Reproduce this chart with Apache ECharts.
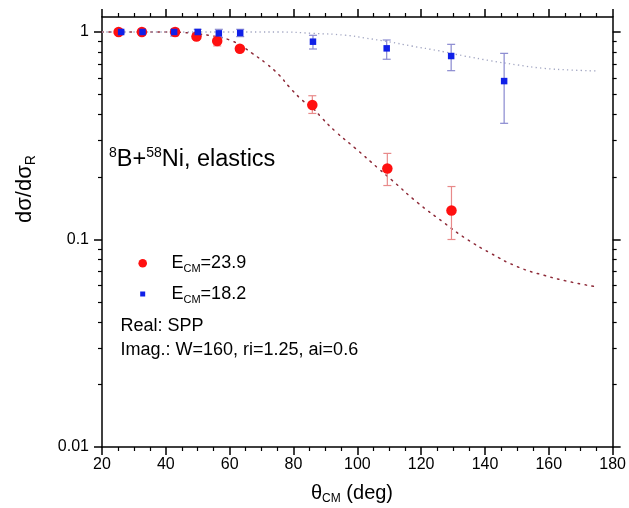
<!DOCTYPE html>
<html>
<head>
<meta charset="utf-8">
<script src="https://cdn.jsdelivr.net/npm/echarts@6/dist/echarts.min.js"></script>
<style>
  html, body { margin: 0; padding: 0; background: #fff; }
  #chart { width: 629px; height: 508px; }
</style>
</head>
<body>
<div id="chart"></div>
<script>
// Elastic scattering 8B + 58Ni: ratio to Rutherford vs. CM angle

// Measured points, E_CM = 23.9 MeV
const redAngle = [25.2, 32.5, 42.9, 49.6, 56.1, 63.2, 85.9, 109.4, 129.5];
const redRatio = [1.0, 1.0, 1.0, 0.95, 0.905, 0.83, 0.445, 0.22, 0.138];
const redLow   = [0.99, 0.99, 0.96, 0.925, 0.857, 0.805, 0.405, 0.182, 0.100];
const redHigh  = [1.01, 1.01, 1.04, 0.975, 0.956, 0.855, 0.493, 0.260, 0.180];

// Measured points, E_CM = 18.2 MeV
const blueAngle = [26.0, 32.7, 42.6, 50.0, 56.6, 63.3, 86.1, 109.2, 129.4, 146.0];
const blueRatio = [1.0, 1.0, 1.0, 1.0, 0.985, 0.99, 0.898, 0.834, 0.766, 0.58];
const blueLow   = [0.99, 0.99, 0.956, 0.96, 0.943, 0.95, 0.828, 0.739, 0.651, 0.363];
const blueHigh  = [1.01, 1.01, 1.03, 1.03, 1.03, 1.03, 0.964, 0.915, 0.872, 0.789];

// Optical-model calculations
const redCurveAngle = [20, 30, 40, 45, 50, 55, 60, 64, 67, 71.4, 75.5, 78.6, 82.7, 86, 88.9, 93.2, 99.4, 106.6, 110.7, 119, 127.3, 133.6, 141.8, 150.1, 158.5, 166.7, 175];
const redCurveRatio = [1.0, 1.0, 1.0, 0.995, 0.98, 0.955, 0.915, 0.85, 0.79, 0.706, 0.62, 0.545, 0.47, 0.43, 0.385, 0.331, 0.275, 0.220, 0.194, 0.150, 0.120, 0.102, 0.0858, 0.0740, 0.0672, 0.0625, 0.0591];
const blueCurveAngle = [20, 40, 60, 75.5, 86, 96.2, 102.5, 109.7, 117, 125.3, 133.6, 141.8, 150.1, 158.5, 166.7, 175];
const blueCurveRatio = [1.0, 1.0, 1.0, 1.0, 0.985, 0.965, 0.935, 0.898, 0.856, 0.813, 0.766, 0.727, 0.694, 0.668, 0.656, 0.649];

// Axis ticks
const xTicks = [20, 40, 60, 80, 100, 120, 140, 160, 180];
const yMajor = [0.01, 0.1, 1];
const yMinor = [0.02, 0.03, 0.04, 0.05, 0.06, 0.07, 0.08, 0.09, 0.2, 0.3, 0.4, 0.5, 0.6, 0.7, 0.8, 0.9];

const FONT = "'Liberation Sans', Arial, sans-serif";
const RED = '#ff1010';
const BLUE = '#1020e8';

const zip = (a, b) => a.map((v, i) => [v, b[i]]);
const zip3 = (a, b, c) => a.map((v, i) => [v, b[i], c[i]]);

function errorBars(color) {
  return function (params, api) {
    const x = api.value(0);
    const lo = api.coord([x, api.value(1)]);
    const hi = api.coord([x, api.value(2)]);
    const w = 4;
    const st = { stroke: color, lineWidth: 1.2 };
    return {
      type: 'group',
      children: [
        { type: 'line', shape: { x1: lo[0], y1: lo[1], x2: hi[0], y2: hi[1] }, style: st },
        { type: 'line', shape: { x1: lo[0] - w, y1: lo[1], x2: lo[0] + w, y2: lo[1] }, style: st },
        { type: 'line', shape: { x1: hi[0] - w, y1: hi[1], x2: hi[0] + w, y2: hi[1] }, style: st }
      ]
    };
  };
}

const axisLineStyle = { color: '#000', width: 1.5 };

function xAxisDef(pos, labels) {
  return {
    type: 'value', position: pos, min: 20, max: 180, interval: 20,
    axisLine: { show: true, onZero: false, lineStyle: axisLineStyle },
    axisTick: { show: true, inside: false, length: 8, lineStyle: { color: '#000', width: 1.5 } },
    minorTick: { show: true, splitNumber: 4, length: 4, lineStyle: { color: '#000', width: 1.2 } },
    axisLabel: labels
      ? { show: true, color: '#000', fontSize: 16, fontFamily: FONT, margin: 10 }
      : { show: false },
    splitLine: { show: false }
  };
}

function yAxisDef(pos, minor, labels) {
  return {
    type: 'log', logBase: 10, position: pos, min: 0.01, max: 1.181,
    axisLine: { show: !minor, onZero: false, lineStyle: axisLineStyle },
    axisTick: {
      show: true, inside: false,
      length: minor ? 4 : 8,
      customValues: minor ? yMinor : yMajor,
      lineStyle: { color: '#000', width: minor ? 1.2 : 1.5 }
    },
    minorTick: { show: false },
    axisLabel: labels
      ? {
          show: true, customValues: yMajor, color: '#000', fontSize: 16, fontFamily: FONT, margin: 13,
          formatter: v => (v >= 0.999 ? '1' : (v >= 0.099 ? '0.1' : '0.01'))
        }
      : { show: false },
    splitLine: { show: false }
  };
}

const chart = echarts.init(document.getElementById('chart'), null, { renderer: 'canvas' });

const option = {
  animation: false,
  backgroundColor: '#ffffff',
  grid: { left: 102, right: 12, top: 17, bottom: 61, containLabel: false },
  xAxis: [xAxisDef('bottom', true), xAxisDef('top', false)],
  yAxis: [
    yAxisDef('left', false, true),
    yAxisDef('right', false, false),
    yAxisDef('left', true, false),
    yAxisDef('right', true, false)
  ],
  series: [
    {
      type: 'line', name: 'calc 23.9', data: zip(redCurveAngle, redCurveRatio),
      smooth: true, showSymbol: false, z: 1,
      lineStyle: { color: '#8e2a38', width: 1.5, type: [1.5, 5.5], cap: 'round' }
    },
    {
      type: 'line', name: 'calc 18.2', data: zip(blueCurveAngle, blueCurveRatio),
      smooth: true, showSymbol: false, z: 1,
      lineStyle: { color: '#a2a6c2', width: 1.3, type: [1.3, 3.2] }
    },
    {
      type: 'custom', name: 'err 23.9', data: zip3(redAngle, redLow, redHigh),
      encode: { x: 0, y: [1, 2] }, renderItem: errorBars('#e88a8a'), z: 2
    },
    {
      type: 'custom', name: 'err 18.2', data: zip3(blueAngle, blueLow, blueHigh),
      encode: { x: 0, y: [1, 2] }, renderItem: errorBars('#8a8ad0'), z: 2
    },
    {
      type: 'scatter', name: 'E_CM=23.9', data: zip(redAngle, redRatio),
      symbol: 'circle', symbolSize: 10.5, itemStyle: { color: RED, opacity: 1 }, z: 3
    },
    {
      type: 'scatter', name: 'E_CM=18.2', data: zip(blueAngle, blueRatio),
      symbol: 'rect', symbolSize: 6.5, itemStyle: { color: BLUE, opacity: 1 }, z: 4
    }
  ],
  graphic: [
    // y-axis title
    {
      type: 'text', x: 25, y: 223, rotation: Math.PI / 2,
      style: {
        text: '{a|dσ/dσ}{r|R}',
        align: 'left', verticalAlign: 'middle',
        rich: {
          a: { fontSize: 22, fontFamily: FONT, fill: '#000', lineHeight: 26 },
          r: { fontSize: 14, fontFamily: FONT, fill: '#000', lineHeight: 2, verticalAlign: 'bottom' }
        }
      }
    },
    // x-axis title
    {
      type: 'text', x: 311, y: 493,
      style: {
        text: '{t|θ}{s|CM}{t| (deg)}',
        align: 'left', verticalAlign: 'middle',
        rich: {
          t: { fontSize: 20, fontFamily: FONT, fill: '#000', lineHeight: 24 },
          s: { fontSize: 12, fontFamily: FONT, fill: '#000', lineHeight: 4, verticalAlign: 'bottom' }
        }
      }
    },
    // reaction label
    {
      type: 'text', x: 109, y: 160,
      style: {
        text: '{p|8}{m|B+}{p|58}{m|Ni, elastics}',
        align: 'left', verticalAlign: 'middle',
        rich: {
          m: { fontSize: 23.5, fontFamily: FONT, fill: '#000', lineHeight: 28 },
          p: { fontSize: 14, fontFamily: FONT, fill: '#000', lineHeight: 3, verticalAlign: 'top' }
        }
      }
    },
    // legend markers
    { type: 'circle', shape: { cx: 142.7, cy: 263.3, r: 4.3 }, style: { fill: RED } },
    { type: 'rect', shape: { x: 140.2, y: 291.5, width: 5, height: 5 }, style: { fill: BLUE } },
    {
      type: 'text', x: 171.5, y: 263,
      style: {
        text: '{e|E}{s|CM}{e|=23.9}',
        align: 'left', verticalAlign: 'middle',
        rich: {
          e: { fontSize: 18, fontFamily: FONT, fill: '#000', lineHeight: 22 },
          s: { fontSize: 11, fontFamily: FONT, fill: '#000', lineHeight: 2, verticalAlign: 'bottom' }
        }
      }
    },
    {
      type: 'text', x: 171.5, y: 294.5,
      style: {
        text: '{e|E}{s|CM}{e|=18.2}',
        align: 'left', verticalAlign: 'middle',
        rich: {
          e: { fontSize: 18, fontFamily: FONT, fill: '#000', lineHeight: 22 },
          s: { fontSize: 11, fontFamily: FONT, fill: '#000', lineHeight: 2, verticalAlign: 'bottom' }
        }
      }
    },
    {
      type: 'text', x: 120.5, y: 326.5,
      style: { text: 'Real: SPP', fontSize: 18, fontFamily: FONT, fill: '#000', align: 'left', verticalAlign: 'middle' }
    },
    {
      type: 'text', x: 120.5, y: 350,
      style: { text: 'Imag.: W=160, ri=1.25, ai=0.6', fontSize: 18, fontFamily: FONT, fill: '#000', align: 'left', verticalAlign: 'middle' }
    }
  ]
};

chart.setOption(option);
</script>
</body>
</html>
